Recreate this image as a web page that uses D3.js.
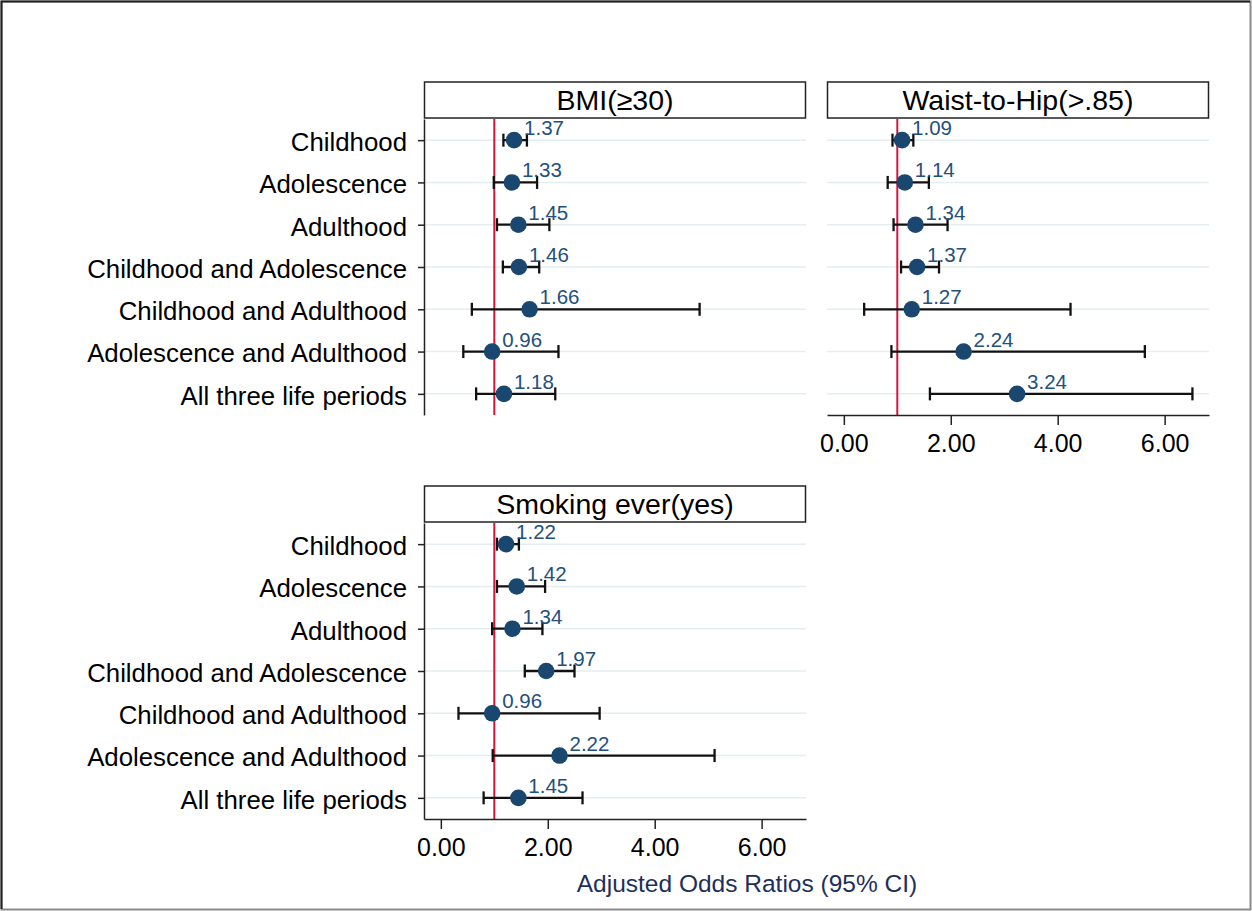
<!DOCTYPE html>
<html>
<head>
<meta charset="utf-8">
<script src="https://cdn.jsdelivr.net/npm/d3@7"></script>
<style>
  body { margin: 0; background: #fff; }
  svg { display: block; font-family: "Liberation Sans", Arial, Helvetica, sans-serif; }
</style>
</head>
<body>
<svg width="1252" height="911"></svg>
<script>
// Data
var periods = ["Childhood", "Adolescence", "Adulthood", "Childhood and Adolescence",
  "Childhood and Adulthood", "Adolescence and Adulthood", "All three life periods"];
var panelTitles = ["BMI(\u226530)", "Waist-to-Hip(>.85)", "Smoking ever(yes)"];

var bmiOR = [1.37, 1.33, 1.45, 1.46, 1.66, 0.96, 1.18];
var bmiLo = [1.17, 0.99, 1.05, 1.16, 0.58, 0.42, 0.66];
var bmiHi = [1.61, 1.80, 2.03, 1.84, 4.84, 2.20, 2.14];

var whrOR = [1.09, 1.14, 1.34, 1.37, 1.27, 2.24, 3.24];
var whrLo = [0.91, 0.82, 0.93, 1.07, 0.38, 0.89, 1.61];
var whrHi = [1.30, 1.59, 1.94, 1.78, 4.24, 5.63, 6.52];

var smkOR = [1.22, 1.42, 1.34, 1.97, 0.96, 2.22, 1.45];
var smkLo = [1.05, 1.05, 0.96, 1.57, 0.33, 0.97, 0.80];
var smkHi = [1.46, 1.95, 1.90, 2.50, 2.97, 5.12, 2.65];

var xTicks = [0, 2, 4, 6];
var refValue = 1;
var xTitle = "Adjusted Odds Ratios (95% CI)";

var svg = d3.select("svg"),
  width = +svg.attr("width"),
  height = +svg.attr("height");

// outer frame
svg.append("rect")
  .attr("x", 1.5).attr("y", 1.5)
  .attr("width", width - 3).attr("height", height - 3)
  .attr("fill", "none").attr("stroke", "#8a8a8a").attr("stroke-width", 2);
svg.append("path")
  .attr("d", "M1.5," + (height - 2) + "V1.5H" + (width - 2))
  .attr("fill", "none").attr("stroke", "#222").attr("stroke-width", 2);

var panels = [
  { title: panelTitles[0], or: bmiOR, lo: bmiLo, hi: bmiHi, left: 424, top: 82, yAxis: true, xAxis: false },
  { title: panelTitles[1], or: whrOR, lo: whrLo, hi: whrHi, left: 827, top: 82, yAxis: false, xAxis: true },
  { title: panelTitles[2], or: smkOR, lo: smkLo, hi: smkHi, left: 424, top: 486, yAxis: true, xAxis: true }
];

var pw = 382, headerH = 36, ph = 296;

panels.forEach(function(p) {
  var g = svg.append("g");
  var top = p.top + headerH + 1;

  var x = d3.scaleLinear().domain([-0.315, 6.83]).range([p.left, p.left + pw]);
  var y = d3.scaleLinear().domain([0.5, 7.5]).range([top, top + ph]);

  // header box
  g.append("rect")
    .attr("x", p.left + 0.5).attr("y", p.top)
    .attr("width", pw - 1).attr("height", headerH)
    .attr("fill", "#fff").attr("stroke", "#222").attr("stroke-width", 1.5);
  g.append("text")
    .attr("x", p.left + pw / 2).attr("y", p.top + headerH - 8)
    .attr("text-anchor", "middle")
    .attr("font-size", 28.5).attr("fill", "#000")
    .text(p.title);

  // gridlines
  g.append("g").selectAll("line")
    .data(d3.range(1, 8))
    .enter().append("line")
      .attr("x1", p.left).attr("x2", p.left + pw)
      .attr("y1", function(d) { return y(d); })
      .attr("y2", function(d) { return y(d); })
      .attr("stroke", "#e4eef1").attr("stroke-width", 1.5);

  // reference line at OR = 1
  g.append("line")
    .attr("x1", x(refValue)).attr("x2", x(refValue))
    .attr("y1", top).attr("y2", top + ph)
    .attr("stroke", "#d31540").attr("stroke-width", 2);

  // y axis
  if (p.yAxis) {
    var ya = g.append("g")
      .attr("transform", "translate(" + p.left + ",0)")
      .call(d3.axisLeft(y)
        .tickValues(d3.range(1, 8))
        .tickFormat(function(d) { return periods[d - 1]; })
        .tickSize(6).tickSizeOuter(0).tickPadding(11));
    ya.selectAll("path, line").attr("stroke", "#222").attr("stroke-width", 1.5);
    ya.selectAll("text")
      .attr("font-size", 25.8).attr("fill", "#000")
      .attr("font-family", "Liberation Sans, Arial, sans-serif")
      .attr("dy", "0.4em");
  }

  // x axis
  if (p.xAxis) {
    var xa = g.append("g")
      .attr("transform", "translate(0," + (top + ph) + ")")
      .call(d3.axisBottom(x)
        .tickValues(xTicks)
        .tickFormat(d3.format(".2f"))
        .tickSize(10).tickSizeOuter(0).tickPadding(9));
    xa.selectAll("path, line").attr("stroke", "#222").attr("stroke-width", 1.5);
    xa.selectAll("text")
      .attr("font-size", 25).attr("fill", "#000")
      .attr("font-family", "Liberation Sans, Arial, sans-serif");
  }

  var rows = p.or.map(function(v, i) { return { or: v, lo: p.lo[i], hi: p.hi[i], row: i + 1 }; });

  // CI bars with caps
  var ci = g.append("g").selectAll("g")
    .data(rows).enter().append("g")
      .attr("stroke", "#111").attr("stroke-width", 2.3);
  ci.append("line")
    .attr("x1", function(d) { return x(d.lo); })
    .attr("x2", function(d) { return x(d.hi); })
    .attr("y1", function(d) { return y(d.row); })
    .attr("y2", function(d) { return y(d.row); });
  ci.append("line")
    .attr("x1", function(d) { return x(d.lo); })
    .attr("x2", function(d) { return x(d.lo); })
    .attr("y1", function(d) { return y(d.row) - 6.5; })
    .attr("y2", function(d) { return y(d.row) + 6.5; });
  ci.append("line")
    .attr("x1", function(d) { return x(d.hi); })
    .attr("x2", function(d) { return x(d.hi); })
    .attr("y1", function(d) { return y(d.row) - 6.5; })
    .attr("y2", function(d) { return y(d.row) + 6.5; });

  // markers
  g.append("g").selectAll("circle")
    .data(rows).enter().append("circle")
      .attr("cx", function(d) { return x(d.or); })
      .attr("cy", function(d) { return y(d.row); })
      .attr("r", 8.3)
      .attr("fill", "#1a476f");

  // marker labels
  g.append("g").selectAll("text")
    .data(rows).enter().append("text")
      .attr("x", function(d) { return x(d.or) + 10; })
      .attr("y", function(d) { return y(d.row) - 5; })
      .attr("font-size", 20.5)
      .attr("fill", "#24507c")
      .text(function(d) { return d3.format(".2f")(d.or); });
});

// x axis title
svg.append("text")
  .attr("x", 747).attr("y", 892)
  .attr("text-anchor", "middle")
  .attr("font-size", 24.5)
  .attr("fill", "#1f2f5c")
  .text(xTitle);
</script>
</body>
</html>
